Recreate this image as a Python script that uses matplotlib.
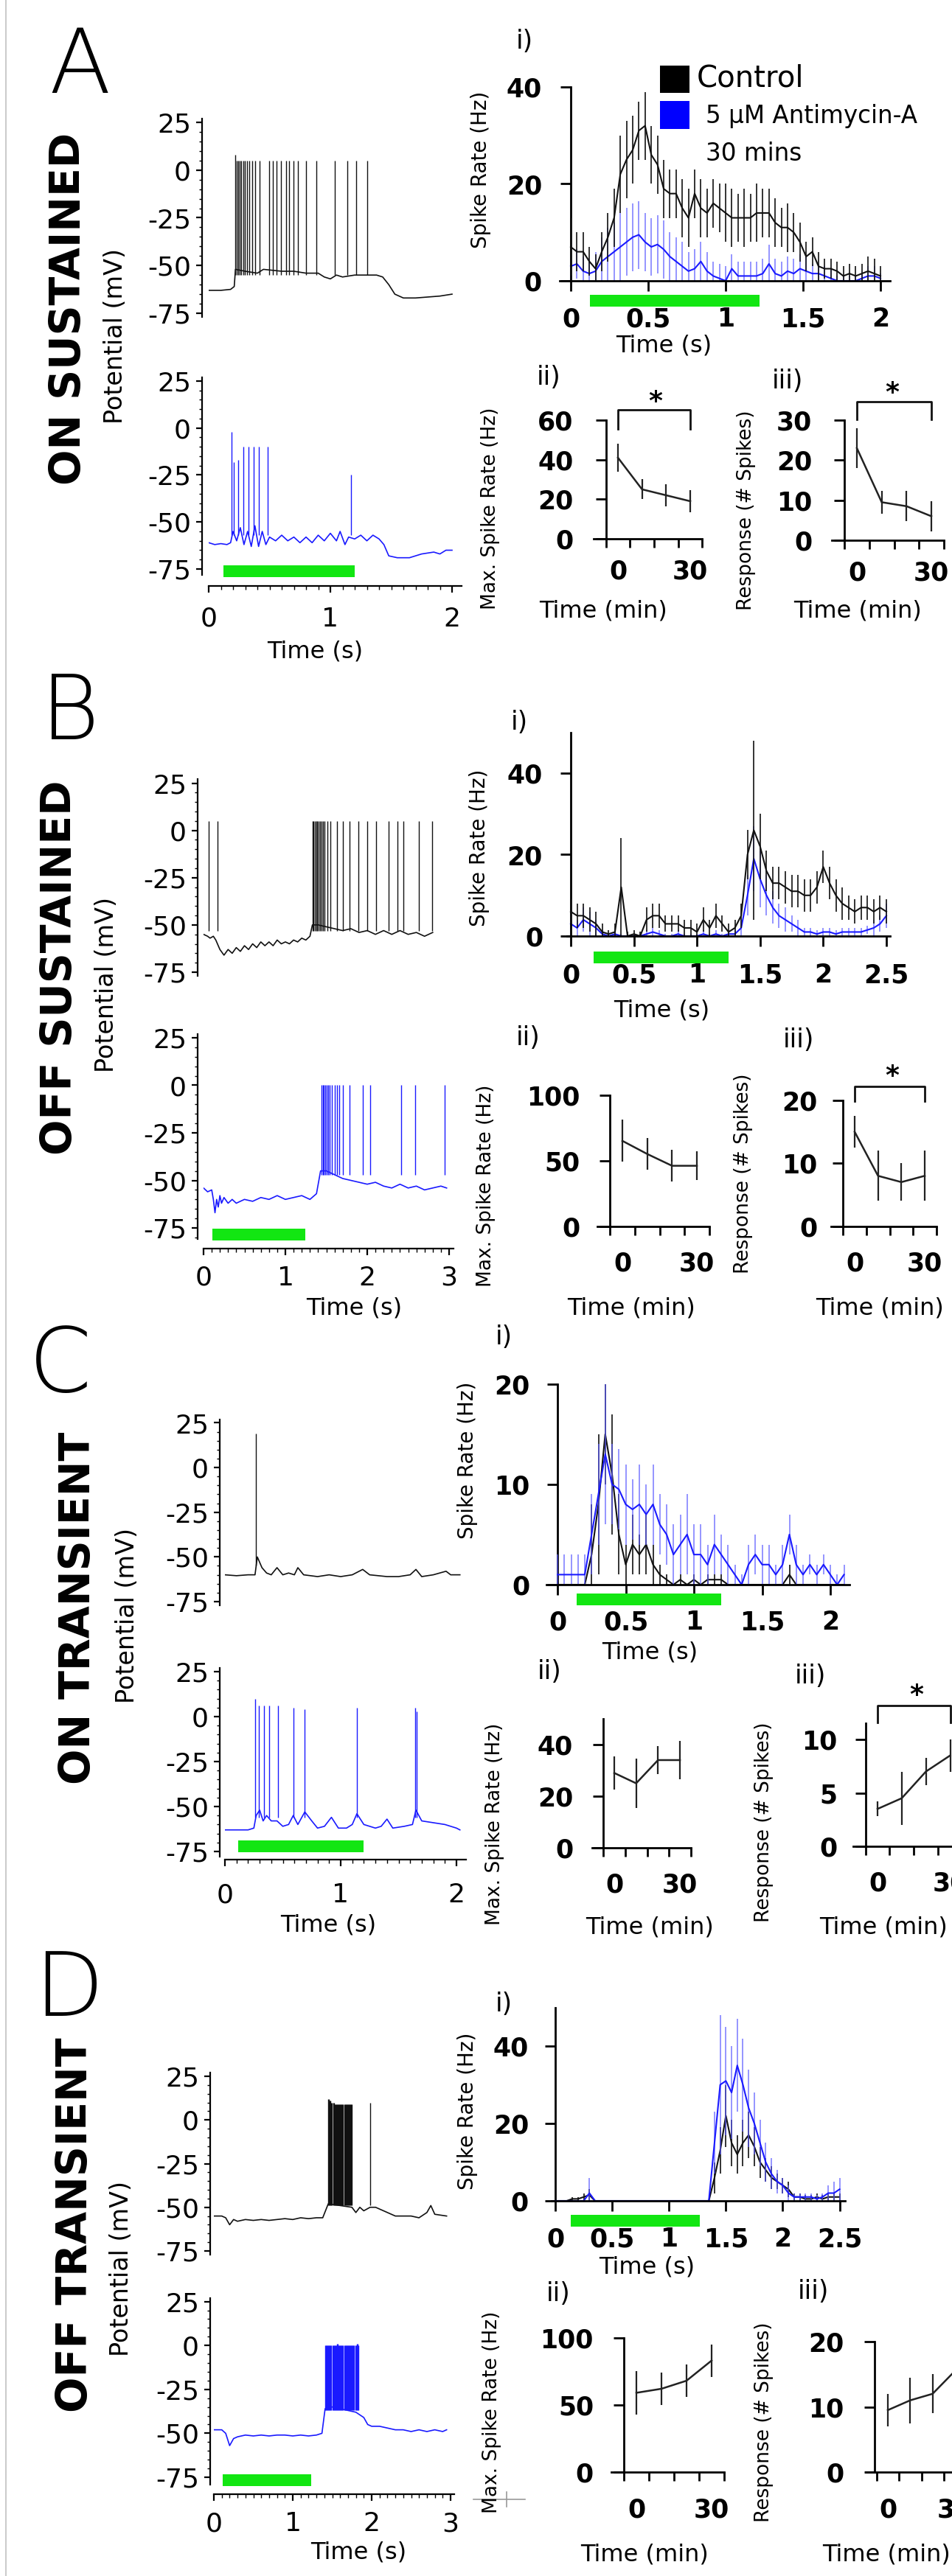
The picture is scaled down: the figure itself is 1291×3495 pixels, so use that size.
import numpy as np
import matplotlib
matplotlib.use('Agg')
import matplotlib.pyplot as plt
from matplotlib.lines import Line2D
from matplotlib.patches import Rectangle
from matplotlib.ticker import MultipleLocator, NullLocator

W, H = 1291, 3495
DPI = 100
PT = 72.0 / DPI
plt.rcParams['axes.unicode_minus'] = False
plt.rcParams['font.family'] = ['DejaVu Sans']

BLACK = '#111111'
BLUE = '#1a1aff'
BLUE_E = (0.35, 0.35, 1.0, 0.75)
GREEN = '#12e612'

# ---------------- DATA ----------------
trace_yticks = [25, 0, -25, -50, -75]
summary_x = [0, 10, 20, 30]

# Panel A traces
A_ctl_t = [0, 0.1, 0.18, 0.21, 0.22, 0.3, 0.4, 0.45, 0.6, 0.7, 0.8, 0.9, 0.95, 1.0, 1.05, 1.1, 1.2, 1.3, 1.38,
           1.43, 1.48, 1.53, 1.6, 1.7, 1.8, 1.9, 2.0]
A_ctl_v = [-63, -63, -62.5, -61, -52, -53, -54, -52, -53, -53, -54, -54, -56, -57, -55, -56, -55, -55, -55,
           -56, -60, -65, -67, -67, -66.5, -66, -65]
A_ctl_sp = [0.219, 0.232, 0.244, 0.256, 0.269, 0.282, 0.294, 0.313, 0.332, 0.357, 0.382, 0.42, 0.496, 0.53,
            0.558, 0.596, 0.634, 0.659, 0.697, 0.735, 0.797, 0.886, 1.036, 1.137, 1.213, 1.30]
A_ctl_pk = [8] + [5] * 25
A_ctl_lo = -55

A_drg_t = [0, 0.05, 0.1, 0.15, 0.18, 0.2, 0.23, 0.26, 0.29, 0.32, 0.35, 0.38, 0.41, 0.44, 0.47, 0.5, 0.55, 0.6,
           0.65, 0.7, 0.75, 0.8, 0.85, 0.9, 0.95, 1.0, 1.05, 1.08, 1.12, 1.15, 1.2, 1.25, 1.3, 1.35, 1.4, 1.44,
           1.48, 1.55, 1.65, 1.75, 1.85, 1.9, 1.95, 2.0]
A_drg_v = [-61, -62, -61.5, -62, -61, -55, -60, -53, -62, -55, -63, -52, -63, -55, -62, -58, -60, -57, -60, -58,
           -61, -58, -61, -57, -60, -56, -60, -55, -62, -58, -59, -57, -60, -57, -59, -62, -68, -69, -69, -67,
           -66, -67, -65, -65]
A_drg_sp = [0.186, 0.206, 0.244, 0.287, 0.325, 0.37, 0.415, 0.483, 1.167]
A_drg_pk = [-2, -18, -17, -10, -10, -10, -10, -10, -25]
A_drg_lo = -57
A_stim = [0.12, 1.2]

# Panel B traces
B_ctl_t = [0, 0.05, 0.08, 0.12, 0.15, 0.2, 0.25, 0.3, 0.35, 0.4, 0.45, 0.5, 0.55, 0.6, 0.65, 0.7, 0.75, 0.8,
           0.85, 0.9, 0.95, 1.0, 1.05, 1.1, 1.15, 1.2, 1.25, 1.3, 1.33, 1.4, 1.5, 1.6, 1.7, 1.8, 1.9, 2.0, 2.1,
           2.2, 2.3, 2.4, 2.5, 2.6, 2.7, 2.8]
B_ctl_v = [-55, -56, -57, -56, -58, -63, -66, -63, -65, -62, -64, -61, -63, -60, -62, -59, -61, -59, -61, -58,
           -60, -59, -60, -58, -59, -57, -58, -56, -50, -50, -51, -52, -53, -52, -54, -53, -55, -53, -55, -53,
           -55, -54, -56, -54]
B_ctl_sp = [0.06, 0.17, 1.33, 1.345, 1.36, 1.375, 1.39, 1.405, 1.42, 1.44, 1.46, 1.48, 1.51, 1.55, 1.63, 1.70,
            1.78, 1.89, 2.0, 2.11, 2.26, 2.37, 2.44, 2.63, 2.79]
B_ctl_pk = [5] * 25
B_ctl_lo = -53

B_drg_t = [0, 0.05, 0.1, 0.12, 0.14, 0.16, 0.18, 0.2, 0.22, 0.25, 0.3, 0.35, 0.4, 0.5, 0.6, 0.7, 0.8, 0.9, 1.0,
           1.1, 1.2, 1.3, 1.38, 1.43, 1.5, 1.6, 1.7, 1.8, 1.9, 2.0, 2.1, 2.2, 2.3, 2.4, 2.5, 2.6, 2.7, 2.8, 2.9,
           2.97]
B_drg_v = [-54, -56, -55, -60, -67, -60, -64, -58, -62, -59, -62, -60, -62, -60, -61, -59, -60, -58, -60, -59,
           -58, -60, -57, -45, -45, -47, -49, -50, -51, -52, -51, -53, -54, -52, -54, -53, -55, -54, -53, -54]
B_drg_sp = [1.44, 1.455, 1.47, 1.485, 1.50, 1.52, 1.54, 1.57, 1.60, 1.63, 1.66, 1.70, 1.78, 1.95, 2.04, 2.41,
            2.59, 2.95]
B_drg_pk = [0] * 18
B_drg_lo = -47
B_stim = [0.11, 1.24]

# Panel C traces
C_ctl_t = [0, 0.1, 0.2, 0.26, 0.28, 0.32, 0.36, 0.4, 0.45, 0.5, 0.55, 0.6, 0.63, 0.68, 0.8, 0.9, 1.0, 1.1, 1.19,
           1.25, 1.4, 1.5, 1.6, 1.65, 1.7, 1.8, 1.91, 1.95, 2.03]
C_ctl_v = [-60, -60.5, -60, -60, -50, -56, -59, -60, -56, -60, -59, -60, -56, -60, -61, -60, -61, -60, -57, -60,
           -61, -61, -60, -57, -61, -60, -58, -60, -60]
C_ctl_sp = [0.27]
C_ctl_pk = [19]
C_ctl_lo = -55

C_drg_t = [0, 0.1, 0.2, 0.25, 0.27, 0.3, 0.33, 0.36, 0.4, 0.45, 0.5, 0.55, 0.59, 0.63, 0.69, 0.75, 0.8, 0.86,
           0.92, 0.98, 1.05, 1.1, 1.14, 1.2, 1.3, 1.35, 1.4, 1.45, 1.55, 1.62, 1.65, 1.7, 1.8, 1.9, 2.0, 2.03]
C_drg_v = [-63, -63, -63, -62, -55, -52, -58, -55, -58, -58, -61, -60, -55, -60, -53, -58, -62, -61, -56, -62,
           -62, -60, -54, -60, -62, -61, -57, -62, -61, -60, -52, -58, -59, -60, -62, -63]
C_drg_sp = [0.26, 0.29, 0.335, 0.385, 0.46, 0.59, 0.69, 1.14, 1.645, 1.655]
C_drg_pk = [10, 6, 6, 6, 6, 5, 4, 5, 5, 3]
C_drg_lo = -56
C_stim = [0.115, 1.2]

# Panel D traces
D_ctl_t = [0, 0.1, 0.15, 0.2, 0.25, 0.3, 0.4, 0.5, 0.6, 0.7, 0.8, 0.9, 1.0, 1.1, 1.2, 1.3, 1.38, 1.45, 1.6,
           1.75, 1.8, 1.85, 1.9, 1.98, 2.05, 2.15, 2.3, 2.5, 2.6, 2.7, 2.75, 2.8, 2.95]
D_ctl_v = [-55, -55, -56, -60, -57, -58, -57, -57.5, -57, -57.5, -57, -56.5, -57, -56, -56.5, -56, -56, -48,
           -49, -50, -53, -50, -52, -50, -50, -52, -55, -55, -56, -53, -49, -54, -55]
D_ctl_sp = [1.45, 1.46, 1.47, 1.48, 1.49, 1.50, 1.51, 1.52, 1.53, 1.54, 1.55, 1.56, 1.57, 1.58, 1.59, 1.60,
            1.61, 1.62, 1.63, 1.64, 1.65, 1.66, 1.67, 1.68, 1.69, 1.70, 1.71, 1.72, 1.73, 1.74, 1.75, 1.98]
D_ctl_pk = [12, 12, 11, 11, 10, 10, 10, 10, 9, 9, 9, 9, 9, 9, 9, 9,
            9, 9, 9, 9, 9, 9, 9, 9, 9, 9, 9, 9, 9, 9, 9, 10]
D_ctl_lo = -49

D_drg_t = [0, 0.1, 0.15, 0.2, 0.25, 0.3, 0.4, 0.5, 0.6, 0.7, 0.8, 0.9, 1.0, 1.1, 1.2, 1.3, 1.37, 1.41, 1.5, 1.6,
           1.7, 1.8, 1.9, 1.95, 2.0, 2.1, 2.2, 2.3, 2.4, 2.5, 2.6, 2.7, 2.8, 2.9, 2.95]
D_drg_v = [-48, -48, -50, -57, -53, -52, -51, -51.5, -51, -51.5, -51, -51, -51.5, -51, -51.5, -51, -50, -36, -35,
           -36, -37, -38, -41, -45, -46, -46, -47, -48, -48, -49, -48, -49, -48, -49, -48]
D_drg_sp = [1.41, 1.42, 1.43, 1.44, 1.45, 1.46, 1.47, 1.48, 1.49, 1.50, 1.51, 1.52, 1.53, 1.54, 1.55, 1.56,
            1.57, 1.58, 1.59, 1.60, 1.61, 1.62, 1.63, 1.64, 1.65, 1.66, 1.67, 1.68, 1.69, 1.70, 1.71, 1.72,
            1.73, 1.74, 1.75, 1.76, 1.77, 1.78, 1.79, 1.80, 1.81, 1.82, 1.83]
D_drg_pk = [0, 0, 0, 0, 0, 0, 0, 0, 0, 0, 0, 0, 0, 0, 0, 1, 1, 0, 0, 0, 0, 0,
            0, 0, 0, 0, 0, 0, 0, 0, 0, 0, 0, 0, 0, 0, 0, 0, 0, 0, 1, 1, 0]
D_drg_lo = -37
D_stim = [0.11, 1.23]

# PSTH (i) data
A_i_t = np.round(np.arange(51) * 0.04, 3)
A_i_ctl = [7, 6, 6, 4, 2.5, 6, 9, 13, 22, 25, 27, 31, 32, 26, 24, 19, 18, 18, 15, 13, 18, 15, 14, 16, 15, 14, 13,
           13, 13, 13, 14, 14, 14, 12, 11, 11, 10, 8, 5, 6, 3, 2.5, 2.5, 2, 1, 1.5, 1, 1.5, 2, 1.5, 1]
A_i_ctl_e = [6, 4, 4, 3, 3, 4, 5, 6, 8, 8, 7, 6, 7, 6, 6, 6, 5, 5, 6, 6, 5, 6, 5, 5, 5, 6, 6, 5, 6, 5, 6, 5, 5, 5,
             4, 5, 4, 4, 3, 3, 3, 2, 2, 2, 2, 2, 2, 2, 3, 3, 2]
A_i_drg = [3, 3.5, 2, 1.5, 2, 4, 5, 6, 7, 8, 9, 9.5, 8, 7, 7.5, 6.5, 5, 4, 3, 2, 2.5, 4, 2, 1, 0.5, 0, 2.5, 1, 1,
           1, 1, 1.5, 3.5, 1.5, 1, 2, 1.5, 2.5, 2, 1.5, 1.5, 1, 0.5, 0, 0, 0, 0, 0.5, 1, 1, 0.5]
A_i_drg_e = [3, 3, 3, 3, 4, 5, 6, 6, 7, 7, 7, 7, 6, 6, 6, 6, 5, 5, 5, 4, 4, 4, 4, 3, 3, 3, 3, 3, 3, 3, 3, 3, 4, 3,
             3, 3, 3, 3, 3, 2, 2, 2, 2, 1, 1, 1, 1, 1, 2, 2, 1]

B_i_t = np.round(np.arange(51) * 0.05, 3)
B_i_ctl = [6, 5, 5, 4, 3, 1, 0.5, 1, 12, 0, 0.5, 0, 4, 5, 5, 3, 3, 3, 2, 2, 1, 4, 2, 5, 3, 1, 2, 5, 20, 26, 22, 16,
           13, 13, 12, 11, 11, 10, 10, 12, 17, 13, 10, 8, 7, 6, 7, 7, 6, 7, 6]
B_i_ctl_e = [3, 3, 3, 3, 3, 2, 1, 2, 12, 1, 1, 1, 3, 3, 3, 2, 2, 2, 2, 2, 2, 3, 2, 3, 2, 2, 2, 3, 6, 22, 8, 5, 4,
             4, 4, 4, 4, 4, 4, 4, 4, 4, 4, 4, 3, 3, 3, 3, 3, 3, 3]
B_i_drg = [3, 2, 4, 3, 2, 0.5, 0, 0.5, 0, 0, 0, 0, 0.5, 1, 0.5, 0, 0, 0.5, 0, 0, 0, 0.5, 0, 0.5, 0, 0.5, 0.5, 2,
           10, 19, 14, 10, 7, 5, 4, 3, 2, 1, 1, 0.5, 1, 1, 0.5, 1, 1, 1, 1, 1.5, 2, 3, 5]
B_i_drg_e = [3, 2, 3, 3, 2, 1, 0.5, 1, 0.5, 0.5, 0.5, 0.5, 1, 1, 1, 0.5, 0.5, 1, 0.5, 0.5, 0.5, 1, 0.5, 1, 0.5, 1,
             1, 2, 5, 8, 7, 5, 4, 3, 3, 2, 2, 1, 1, 1, 1, 1, 1, 1, 1, 1, 1, 1, 2, 2, 3]

C_i_t = np.round(np.arange(43) * 0.05, 3)
C_i_ctl = [0, 0, 0, 0, 0, 3, 8, 15, 11, 5, 2, 4, 3, 4, 2, 1, 0.5, 0, 0.5, 0, 0.5, 0, 0.5, 0.5, 0.5, 0, 0, 0, 0, 0,
           0, 0, 0, 0, 1, 0, 0, 0, 0, 0, 0, 0, 0]
C_i_ctl_e = [0, 0, 0, 0, 0, 5, 7, 5, 6, 4, 2, 3, 2, 3, 2, 1, 0.5, 0, 0.5, 0, 0.5, 0, 0.5, 0.5, 0.5, 0, 0, 0, 0, 0,
             0, 0, 0, 0, 1, 0, 0, 0, 0, 0, 0, 0, 0]
C_i_drg = [1, 1, 1, 1, 1, 5, 9, 13, 10, 9.5, 8, 7.5, 8, 7, 8, 6, 5, 3, 4, 5, 3, 3, 2, 4, 3, 2, 1, 0, 2, 3, 2, 2,
           1, 2, 5, 2, 1, 2, 1, 2, 1, 0, 1]
C_i_drg_e = [2, 2, 2, 2, 2, 4, 5, 7, 4, 4, 4, 3, 4, 3, 4, 3, 3, 3, 3, 4, 3, 3, 2, 3, 2, 2, 1, 1, 2, 2, 2, 2, 1, 2,
             2, 2, 1, 1, 1, 1, 1, 1, 1]

D_i_t = np.round(np.arange(51) * 0.05, 3)
D_i_ctl = [0, 0, 0, 0.5, 0.5, 1, 1.5, 0, 0, 0, 0, 0, 0, 0, 0, 0, 0, 0, 0, 0, 0, 0, 0, 0, 0, 0, 0, 0, 6, 13, 22,
           15, 12, 15, 17, 14, 10, 8, 6, 5, 4, 3, 1, 1, 0.5, 0.5, 1, 0.5, 1, 1, 1]
D_i_ctl_e = [0, 0, 0, 0.5, 0.5, 1, 1.5, 0, 0, 0, 0, 0, 0, 0, 0, 0, 0, 0, 0, 0, 0, 0, 0, 0, 0, 0, 0, 0, 4, 6, 8,
             6, 5, 6, 6, 5, 4, 3, 3, 2, 2, 2, 1, 1, 1, 1, 1, 1, 1, 1, 1]
D_i_drg = [0, 0, 0, 0, 0, 0, 2, 0, 0, 0, 0, 0, 0, 0, 0, 0, 0, 0, 0, 0, 0, 0, 0, 0, 0, 0, 0, 0, 15, 30, 31, 28,
           35, 30, 24, 20, 15, 10, 7, 5, 4, 2, 1, 1, 1, 1, 0.5, 1, 2, 2, 3]
D_i_drg_e = [0, 0, 0, 0, 0, 0, 4, 0, 0, 0, 0, 0, 0, 0, 0, 0, 0, 0, 0, 0, 0, 0, 0, 0, 0, 0, 0, 0, 8, 18, 14, 12,
             12, 12, 10, 8, 6, 5, 4, 3, 2, 2, 1, 1, 1, 1, 1, 1, 2, 3, 3]

# Summary (ii: max spike rate, iii: response)
A_ii = [41, 25, 22, 19];      A_ii_e = [7, 5, 5.5, 5.5]
A_iii = [23, 9.5, 8.5, 6];    A_iii_e = [5, 2.8, 3.8, 3.8]
B_ii = [65, 55, 46, 46];      B_ii_e = [16, 12, 12, 11]
B_iii = [15, 8, 7, 8];        B_iii_e = [2.5, 4, 3, 4]
C_ii = [29, 25, 34, 34];      C_ii_e = [6.5, 9.5, 5.5, 7.5]
C_iii = [3.5, 4.5, 7, 8.5];   C_iii_e = [0.7, 2.5, 1.3, 1.5]
D_ii = [59, 62, 68, 83];      D_ii_e = [16, 12, 12, 12]
D_iii = [9.5, 11, 12, 15.5];  D_iii_e = [2.5, 3.5, 3, 3]

# ---------------- FIGURE ----------------
fig = plt.figure(figsize=(W / DPI, H / DPI), dpi=DPI)
fig.patch.set_facecolor('white')


def add_ax(xcal, ycal, xlim, ylim):
    xd0, xp0, xd1, xp1 = xcal
    yd0, yp0, yd1, yp1 = ycal
    sx = (xp1 - xp0) / (xd1 - xd0)
    sy = (yp1 - yp0) / (yd1 - yd0)
    left = xp0 + (xlim[0] - xd0) * sx
    right = xp0 + (xlim[1] - xd0) * sx
    top = yp0 + (ylim[1] - yd0) * sy
    bottom = yp0 + (ylim[0] - yd0) * sy
    ax = fig.add_axes([left / W, 1 - bottom / H, (right - left) / W, (bottom - top) / H])
    ax.set_xlim(*xlim)
    ax.set_ylim(*ylim)
    ax.patch.set_alpha(0)
    for s in ['top', 'right']:
        ax.spines[s].set_visible(False)
    return ax


def ftext(x, y, s, size, rot=0, weight='normal', ha='center', va='center', family='DejaVu Sans'):
    fig.text(x / W, 1 - y / H, s, fontsize=size, rotation=rot, fontweight=weight, ha=ha, va=va,
             family=family, color='black')


def trace(xcal, ycal, xlim, ylim, t, v, sp, pk, lo, color, left_out, bottom=None, stim=None, stim_y=None):
    ax = add_ax(xcal, ycal, xlim, ylim)
    ax.plot(t, v, color=color, lw=1.2)
    ax.vlines(sp, lo, pk, color=color, lw=1.0)
    ax.spines['left'].set_position(('outward', left_out * PT))
    ax.spines['left'].set_linewidth(1.6)
    ax.set_yticks(trace_yticks)
    ax.set_yticklabels([str(k) for k in trace_yticks])
    ax.yaxis.set_minor_locator(MultipleLocator(5))
    ax.tick_params(axis='y', which='major', length=8 * PT, width=1.6, pad=7 * PT, labelsize=26)
    ax.tick_params(axis='y', which='minor', length=4 * PT, width=1.0)
    if bottom is None:
        ax.spines['bottom'].set_visible(False)
        ax.set_xticks([])
        ax.xaxis.set_minor_locator(NullLocator())
    else:
        out, ticks, pad = bottom
        ax.spines['bottom'].set_position(('outward', out * PT))
        ax.spines['bottom'].set_linewidth(1.6)
        ax.set_xticks(ticks)
        ax.set_xticklabels([str(k) for k in ticks])
        ax.xaxis.set_minor_locator(MultipleLocator(0.1))
        ax.tick_params(axis='x', which='major', length=9 * PT, width=1.6, pad=pad * PT, labelsize=26)
        ax.tick_params(axis='x', which='minor', length=5 * PT, width=1.0)
    if stim is not None:
        ax.plot(stim, [stim_y, stim_y], color=GREEN, lw=16 * PT, solid_capstyle='butt', clip_on=False)
    return ax


def psth(xcal, ycal, xlim, ylim, ytop, yticks, xticks, t, ctl, ctl_e, drg, drg_e, stim, stim_y, ypad, xpad,
         blue_on_top=False):
    ax = add_ax(xcal, ycal, xlim, ylim)
    z_b, z_k = (3, 2) if blue_on_top else (2, 3)
    ax.errorbar(t, drg, yerr=drg_e, color=BLUE, lw=1.5, elinewidth=1.2, ecolor=BLUE_E, capsize=0, zorder=z_b)
    ax.errorbar(t, ctl, yerr=ctl_e, color=BLACK, lw=1.5, elinewidth=1.2, ecolor=BLACK, capsize=0, zorder=z_k)
    ax.spines['left'].set_position(('data', 0))
    ax.spines['left'].set_bounds(0, ytop)
    ax.spines['left'].set_linewidth(2)
    ax.spines['bottom'].set_linewidth(2)
    ax.spines['bottom'].set_zorder(5)
    ax.set_yticks(yticks)
    ax.set_yticklabels([str(k) for k in yticks])
    ax.set_xticks(xticks)
    ax.set_xticklabels([('%g' % k) for k in xticks])
    ax.tick_params(axis='y', length=14 * PT, width=2, pad=ypad * PT, labelsize=25)
    ax.tick_params(axis='x', length=14 * PT, width=2, pad=xpad * PT, labelsize=25)
    for lab in ax.get_xticklabels() + ax.get_yticklabels():
        lab.set_fontweight('bold')
    ax.plot(stim, [stim_y, stim_y], color=GREEN, lw=16 * PT, solid_capstyle='butt', clip_on=False)
    return ax


def summary(xcal, ycal, xlim, ylim, ytop, yticks, vals, errs, spine_x, ypad, xpad, sig=None):
    ax = add_ax(xcal, ycal, xlim, ylim)
    ax.errorbar(summary_x, vals, yerr=errs, color='#222222', lw=1.8, elinewidth=1.6, capsize=0, clip_on=False)
    ax.spines['left'].set_position(('data', spine_x))
    ax.spines['left'].set_bounds(0, ytop)
    ax.spines['left'].set_linewidth(2)
    ax.spines['bottom'].set_linewidth(2)
    ax.set_yticks(yticks)
    ax.set_yticklabels([str(k) for k in yticks])
    ax.set_xticks([0, 30])
    ax.set_xticklabels(['0', '30'])
    ax.set_xticks([-5, 5, 15, 25, 35], minor=True)
    ax.tick_params(axis='y', length=14 * PT, width=2, pad=ypad * PT, labelsize=25)
    ax.tick_params(axis='x', which='major', length=0, pad=xpad * PT, labelsize=25)
    ax.tick_params(axis='x', which='minor', length=12 * PT, width=2)
    for lab in ax.get_xticklabels() + ax.get_yticklabels():
        lab.set_fontweight('bold')
    if sig is not None:
        x0, x1, yb, yl = sig
        ax.plot([x0, x0, x1, x1], [yl, yb, yb, yl], color='#111111', lw=2, clip_on=False)
    return ax


# ---------- Panel A ----------
trace((0, 283, 2, 613), (25, 166, -75, 425), (0, 2.02), (-77, 27), A_ctl_t, A_ctl_v, A_ctl_sp, A_ctl_pk,
      A_ctl_lo, BLACK, 9)
trace((0, 283, 2, 613), (25, 517, -75, 772), (0, 2.08), (-78, 27), A_drg_t, A_drg_v, A_drg_sp, A_drg_pk,
      A_drg_lo, BLUE, 9, bottom=(15, [0, 1, 2], 19), stim=A_stim, stim_y=-76.2)
psth((0, 774, 2, 1194), (0, 381, 40, 118), (-0.07, 2.06), (0, 42), 40, [0, 20, 40], [0, 0.5, 1, 1.5, 2],
     A_i_t, A_i_ctl, A_i_ctl_e, A_i_drg, A_i_drg_e, [0.124, 1.22], -4.1, 25, 21)
summary((0, 838, 30, 936), (0, 731, 60, 570), (-10, 35), (0, 61), 60, [0, 20, 40, 60], A_ii, A_ii_e, -5, 30, 27,
        sig=(0, 30, 65.2, 55.5))
summary((0, 1162, 30, 1263), (0, 733, 30, 570), (-10, 35), (0, 30.5), 30, [0, 10, 20, 30], A_iii, A_iii_e, -5,
        30, 27, sig=(0, 30, 34.6, 30.2))

# ---------- Panel B ----------
trace((0, 276, 3, 609), (25, 1062.5, -75, 1319), (0, 2.82), (-77, 27), B_ctl_t, B_ctl_v, B_ctl_sp, B_ctl_pk,
      B_ctl_lo, BLACK, 8)
trace((0, 276, 3, 609), (25, 1408, -75, 1666), (0, 3.05), (-81, 27), B_drg_t, B_drg_v, B_drg_sp, B_drg_pk,
      B_drg_lo, BLUE, 8, bottom=(12.5, [0, 1, 2, 3], 14), stim=B_stim, stim_y=-78.5)
psth((0, 774, 2.5, 1202), (0, 1270, 40, 1049), (-0.03, 2.53), (0, 51), 50, [0, 20, 40],
     [0, 0.5, 1, 1.5, 2, 2.5], B_i_t, B_i_ctl, B_i_ctl_e, B_i_drg, B_i_drg_e, [0.18, 1.25], -5.25, 24, 22)
summary((0, 844, 30, 945), (0, 1663.5, 100, 1485.6), (-10, 35), (0, 101), 100, [0, 50, 100], B_ii, B_ii_e, -5,
        27, 34)
summary((0, 1159, 30, 1254), (0, 1663.5, 20, 1493), (-10, 35), (0, 20.5), 20, [0, 10, 20], B_iii, B_iii_e, -5,
        21, 34, sig=(0, 30, 22.2, 19.9))

# ---------- Panel C ----------
trace((0, 305, 2, 619), (25, 1930.5, -75, 2173), (0, 2.05), (-77, 27), C_ctl_t, C_ctl_v, C_ctl_sp, C_ctl_pk,
      C_ctl_lo, BLACK, 7)
trace((0, 305, 2, 619), (25, 2268, -75, 2512), (0, 2.08), (-78, 27), C_drg_t, C_drg_v, C_drg_sp, C_drg_pk,
      C_drg_lo, BLUE, 7, bottom=(4, [0, 1, 2], 22), stim=C_stim, stim_y=-72.1)
psth((0, 756, 2, 1126), (0, 2150, 20, 1877.7), (-0.08, 2.14), (0, 21), 20, [0, 10, 20], [0, 0.5, 1, 1.5, 2],
     C_i_t, C_i_ctl, C_i_ctl_e, C_i_drg, C_i_drg_e, [0.14, 1.2], -1.5, 24, 20, blue_on_top=True)
summary((0, 833, 30, 922), (0, 2507, 40, 2367), (-10, 35), (0, 51), 50, [0, 20, 40], C_ii, C_ii_e, -5, 27, 33)
summary((0, 1190, 30, 1288.5), (0, 2505, 10, 2360), (-10, 35), (0, 12), 11.5, [0, 5, 10], C_iii, C_iii_e, -5,
        24, 33, sig=(0, 30, 13.2, 11.6))

# ---------- Panel D ----------
trace((0, 290, 3, 611), (25, 2817, -75, 3054), (0, 2.97), (-77, 27), D_ctl_t, D_ctl_v, D_ctl_sp, D_ctl_pk,
      D_ctl_lo, BLACK, 5)
trace((0, 290, 3, 611), (25, 3122.6, -75, 3361), (0, 3.05), (-79, 27), D_drg_t, D_drg_v, D_drg_sp, D_drg_pk,
      D_drg_lo, BLUE, 5, bottom=(13.5, [0, 1, 2, 3], 14), stim=D_stim, stim_y=-76.7)
psth((0, 753, 2.5, 1138.6), (0, 2986, 40, 2776), (-0.03, 2.55), (0, 51), 50, [0, 20, 40],
     [0, 0.5, 1, 1.5, 2, 2.5], D_i_t, D_i_ctl, D_i_ctl_e, D_i_drg, D_i_drg_e, [0.135, 1.27], -5.2, 22, 21,
     blue_on_top=True)
summary((0, 863, 30, 965), (0, 3354, 100, 3171.7), (-10, 35), (0, 101), 100, [0, 50, 100], D_ii, D_ii_e, -5,
        27, 34)
summary((0, 1204, 30, 1295), (0, 3354, 20, 3177), (-10, 35), (0, 20.5), 20, [0, 10, 20], D_iii, D_iii_e, -6,
        27, 34)

# ---------- Texts ----------
letters = [('A', 108, 93), ('B', 95, 970), ('C', 82, 1855), ('D', 93, 2702)]
for s, x, y in letters:
    ftext(x, y, s, 88, weight='light', family='DejaVu Sans')

titles = [('ON SUSTAINED', 93, 419), ('OFF SUSTAINED', 82, 1313), ('ON TRANSIENT', 107, 2182),
          ('OFF TRANSIENT', 103, 3019)]
for s, x, y in titles:
    ftext(x, y, s, 41, rot=90, weight='bold')

for x, y in [(157, 456), (144, 1336), (173, 2192), (165, 3078)]:
    ftext(x, y, 'Potential (mV)', 24, rot=90)

for x, y in [(427, 884), (480, 1775), (445, 2612), (486, 3463)]:
    ftext(x, y, 'Time (s)', 23)
for x, y in [(900, 469), (897, 1371), (881, 2242), (877, 3076)]:
    ftext(x, y, 'Time (s)', 23)
for x, y in [(818, 829), (1163, 829), (856, 1775), (1193, 1775), (881, 2615), (1198, 2615), (874, 3466),
             (1202, 3466)]:
    ftext(x, y, 'Time (min)', 23)
for x, y in [(652, 230), (650, 1150), (634, 1981), (634, 2864)]:
    ftext(x, y, 'Spike Rate (Hz)', 20, rot=90)
for x, y in [(665, 690), (659, 1609), (671, 2475), (667, 3273)]:
    ftext(x, y, 'Max. Spike Rate (Hz)', 19, rot=90)
for x, y in [(1012, 692), (1008, 1592), (1036, 2472), (1036, 3286)]:
    ftext(x, y, 'Response (# Spikes)', 19, rot=90)

for s, x, y in [('i)', 711, 56), ('ii)', 744, 512), ('iii)', 1068, 517),
                ('i)', 704, 980), ('ii)', 716, 1408), ('iii)', 1083, 1411),
                ('i)', 683, 1814), ('ii)', 745, 2268), ('iii)', 1099, 2274),
                ('i)', 683, 2719), ('ii)', 757, 3112), ('iii)', 1103, 3109)]:
    ftext(x, y, s, 25)

for x, y in [(889, 545), (1210, 533), (1210, 1460), (1243, 2300)]:
    ftext(x, y, '*', 26, weight='bold')

# Legend
fig.add_artist(Rectangle((895 / W, 1 - 126 / H), 40 / W, 37 / H, transform=fig.transFigure,
                         facecolor='black', edgecolor='none'))
fig.add_artist(Rectangle((895 / W, 1 - 175 / H), 40 / W, 38 / H, transform=fig.transFigure,
                         facecolor='#0000ff', edgecolor='none'))
ftext(945, 107, 'Control', 29, ha='left')
ftext(957, 158, '5 μM Antimycin-A', 23.5, ha='left')
ftext(957, 209, '30 mins', 23.5, ha='left')

# left border and small artifact near D ii
fig.add_artist(Line2D([8 / W, 8 / W], [0, 1], transform=fig.transFigure, color='#cccccc', lw=1.5))
fig.add_artist(Line2D([642 / W, 712 / W], [1 - 3391 / H, 1 - 3391 / H], transform=fig.transFigure,
                      color='#9a9a9a', lw=1.2))
fig.add_artist(Line2D([687 / W, 687 / W], [1 - 3381 / H, 1 - 3401 / H], transform=fig.transFigure,
                      color='#9a9a9a', lw=1.2))

fig.savefig('out.png', dpi=DPI, facecolor='white')
